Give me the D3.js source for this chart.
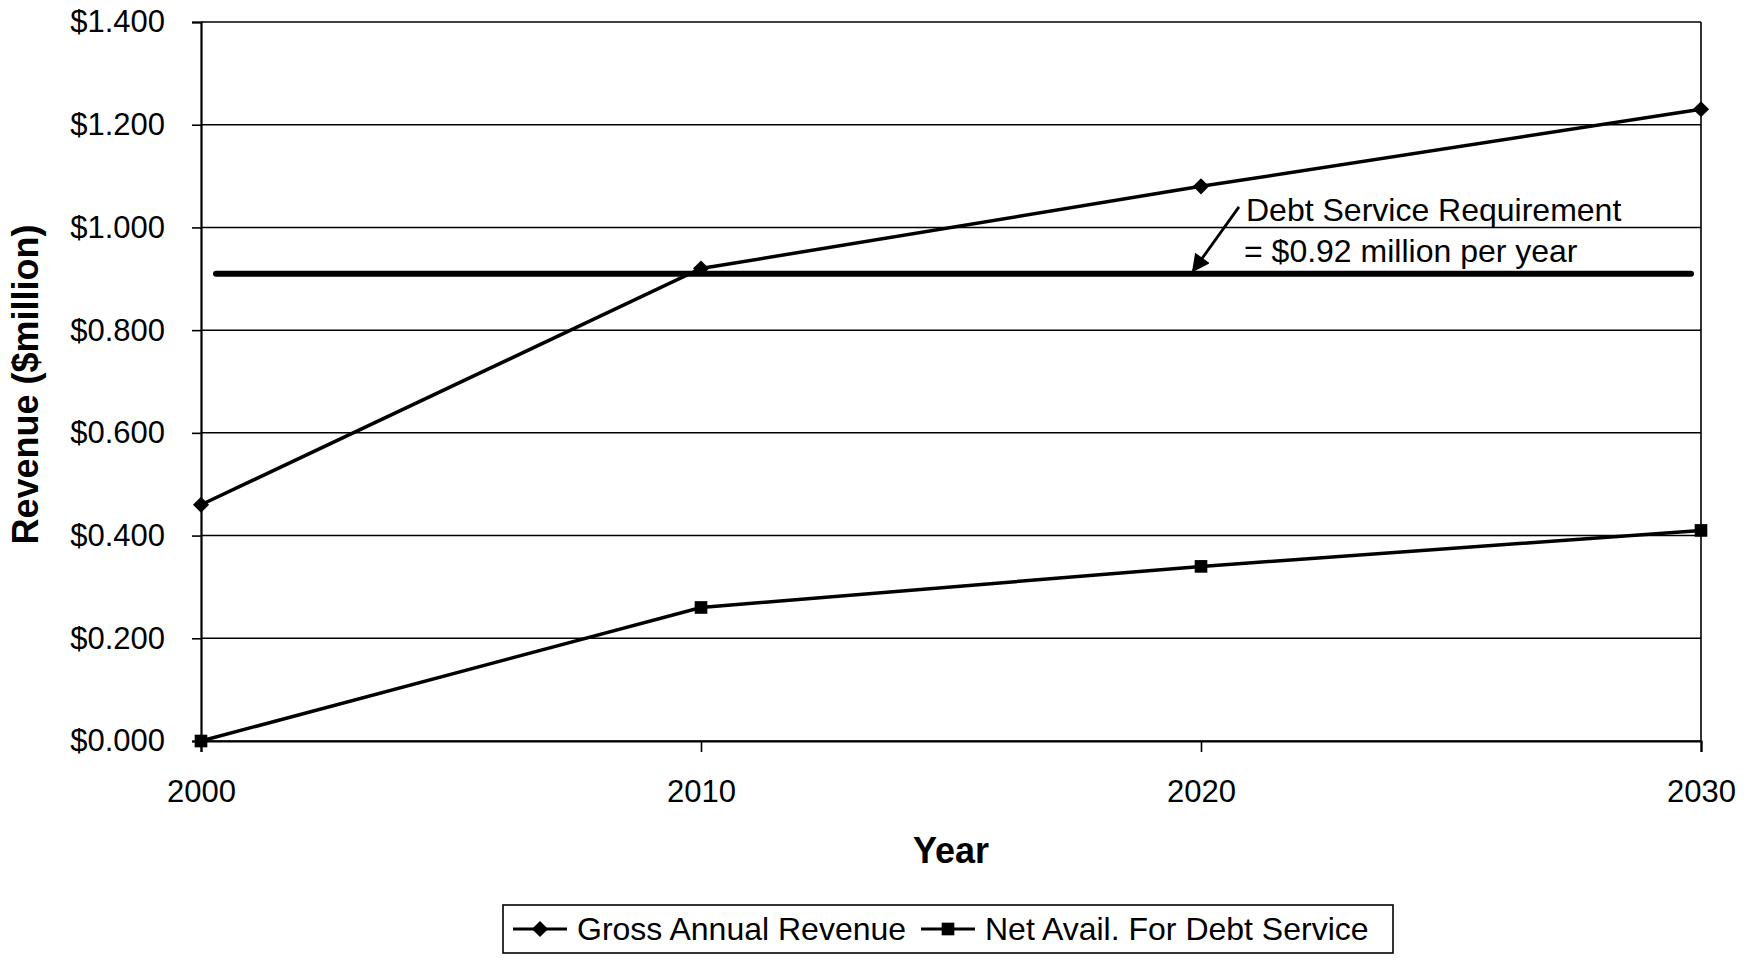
<!DOCTYPE html>
<html>
<head>
<meta charset="utf-8">
<script src="https://cdn.jsdelivr.net/npm/d3@7"></script>
<style>
  html, body { margin: 0; padding: 0; background: #fff; }
  svg { display: block; }
  text { font-family: "Liberation Sans", Arial, sans-serif; fill: #000; }
</style>
</head>
<body>
<svg id="chart" width="1748" height="963"></svg>
<script>
// ---- Data ----
const years = [2000, 2010, 2020, 2030];
const grossRevenue = [0.46, 0.92, 1.08, 1.23];
const netAvailForDebt = [0.00, 0.26, 0.34, 0.41];
const yTickValues = [0, 0.2, 0.4, 0.6, 0.8, 1.0, 1.2, 1.4];
const xTickValues = [2000, 2010, 2020, 2030];
const debtServiceLevel = 0.91;          // drawn level of requirement line
const debtServiceSpan = [2000.3, 2029.8]; // years spanned by the requirement line
const seriesNames = ["Gross Annual Revenue", "Net Avail. For Debt Service"];
const annotationLines = ["Debt Service Requirement", "= $0.92 million per year"];
const xTitle = "Year";
const yTitle = "Revenue ($million)";

// ---- Layout ----
const svg = d3.select("#chart");
const pL = 201, pR = 1701, pT = 22, pB = 741;
const x = d3.scaleLinear().domain([2000, 2030]).range([pL, pR]);
const y = d3.scaleLinear().domain([0, 1.4]).range([pB, pT]);
const fmt = d => "$" + d3.format(".3f")(d);

// gridlines
svg.append("g").selectAll("line").data(yTickValues).join("line")
  .attr("x1", pL).attr("x2", pR)
  .attr("y1", d => y(d)).attr("y2", d => y(d))
  .attr("stroke", "#000").attr("stroke-width", 1.5);

// right border
svg.append("line").attr("x1", pR).attr("x2", pR)
  .attr("y1", y(1.4)).attr("y2", y(0))
  .attr("stroke", "#000").attr("stroke-width", 1.6);

// y axis
const yAxis = svg.append("g").attr("transform", `translate(${pL},0)`)
  .call(d3.axisLeft(y).tickValues(yTickValues).tickFormat(fmt).tickSize(9).tickPadding(27));
yAxis.select(".domain").attr("stroke-width", 2.2);
yAxis.selectAll(".tick line").attr("stroke-width", 1.6);
yAxis.selectAll("text").attr("font-size", 31).attr("font-family", "Liberation Sans, Arial, sans-serif").attr("fill", "#000");

// x axis
const xAxis = svg.append("g").attr("transform", `translate(0,${pB})`)
  .call(d3.axisBottom(x).tickValues(xTickValues).tickFormat(d3.format("d")).tickSize(11).tickPadding(28));
xAxis.select(".domain").attr("stroke-width", 2.2);
xAxis.selectAll(".tick line").attr("stroke-width", 1.6);
xAxis.selectAll("text").attr("font-size", 31).attr("font-family", "Liberation Sans, Arial, sans-serif").attr("fill", "#000");

// debt service requirement line
svg.append("line")
  .attr("x1", x(debtServiceSpan[0])).attr("x2", x(debtServiceSpan[1]))
  .attr("y1", y(debtServiceLevel)).attr("y2", y(debtServiceLevel))
  .attr("stroke", "#000").attr("stroke-width", 6).attr("stroke-linecap", "round");

// series lines
const line = d3.line().x(d => x(d[0])).y(d => y(d[1]));
const grossPts = years.map((yr, i) => [yr, grossRevenue[i]]);
const netPts = years.map((yr, i) => [yr, netAvailForDebt[i]]);
svg.append("path").datum(grossPts).attr("d", line)
  .attr("fill", "none").attr("stroke", "#000").attr("stroke-width", 3.5);
svg.append("path").datum(netPts).attr("d", line)
  .attr("fill", "none").attr("stroke", "#000").attr("stroke-width", 3.5);

const diamond = d3.symbol().type(d3.symbolSquare).size(130);
const square = d3.symbol().type(d3.symbolSquare).size(160);
svg.append("g").selectAll("path").data(grossPts).join("path")
  .attr("d", diamond).attr("transform", d => `translate(${x(d[0])},${y(d[1])}) rotate(45)`).attr("fill", "#000");
svg.append("g").selectAll("path").data(netPts).join("path")
  .attr("d", square).attr("transform", d => `translate(${x(d[0])},${y(d[1])})`).attr("fill", "#000");

// annotation
const arrowTail = [x(2020.76), y(1.04)];
const arrowTip = [x(2019.84), y(0.915)];
svg.append("defs").append("marker")
  .attr("id", "ah").attr("viewBox", "0 0 10 10").attr("refX", 9).attr("refY", 5)
  .attr("markerWidth", 20).attr("markerHeight", 18).attr("markerUnits", "userSpaceOnUse")
  .attr("orient", "auto")
  .append("path").attr("d", "M0,0 L10,5 L0,10 z").attr("fill", "#000");
svg.append("line")
  .attr("x1", arrowTail[0]).attr("y1", arrowTail[1])
  .attr("x2", arrowTip[0]).attr("y2", arrowTip[1])
  .attr("stroke", "#000").attr("stroke-width", 2.8).attr("marker-end", "url(#ah)");
const ann = svg.append("text").attr("font-size", 32);
ann.append("tspan").attr("x", arrowTail[0] + 7).attr("y", arrowTail[1] + 14).text(annotationLines[0]);
ann.append("tspan").attr("x", arrowTail[0] + 5).attr("y", arrowTail[1] + 55).text(annotationLines[1]);

// axis titles
svg.append("text").attr("x", (pL + pR) / 2).attr("y", 863)
  .attr("text-anchor", "middle").attr("font-size", 36).attr("font-weight", "bold").text(xTitle);
svg.append("text").attr("transform", `translate(38,${(pT + pB) / 2 + 3}) rotate(-90)`)
  .attr("text-anchor", "middle").attr("font-size", 36).attr("font-weight", "bold").text(yTitle);

// legend
const lg = svg.append("g");
lg.append("rect").attr("x", 503).attr("y", 905).attr("width", 890).attr("height", 48)
  .attr("fill", "#fff").attr("stroke", "#000").attr("stroke-width", 1.6);
const legendItems = [
  { name: seriesNames[0], sym: diamond, rot: 45, x0: 513 },
  { name: seriesNames[1], sym: square, rot: 0, x0: 921 }
];
legendItems.forEach(it => {
  lg.append("line").attr("x1", it.x0).attr("x2", it.x0 + 54).attr("y1", 929).attr("y2", 929)
    .attr("stroke", "#000").attr("stroke-width", 2.8);
  lg.append("path").attr("d", it.sym).attr("transform", `translate(${it.x0 + 27},929) rotate(${it.rot})`).attr("fill", "#000");
  lg.append("text").attr("x", it.x0 + 64).attr("y", 940).attr("font-size", 32).text(it.name);
});
</script>
</body>
</html>
